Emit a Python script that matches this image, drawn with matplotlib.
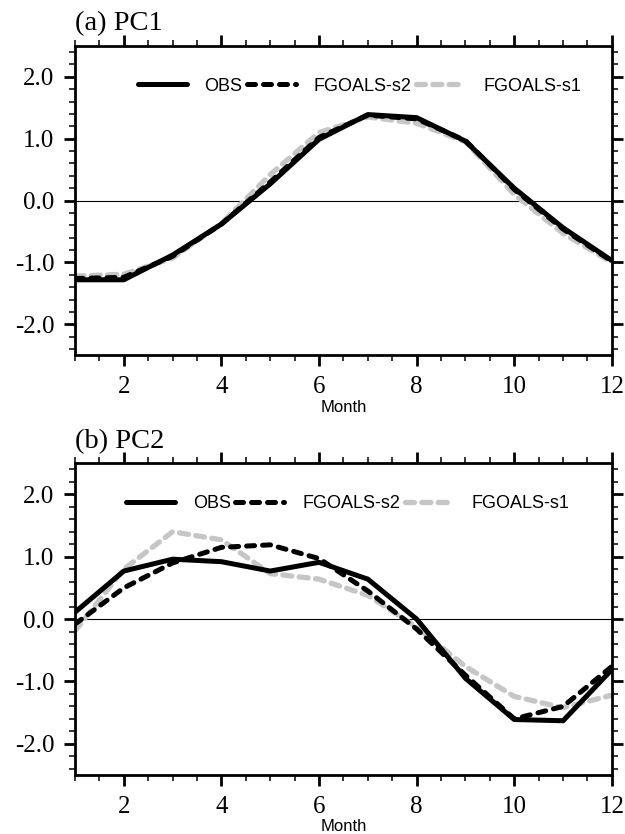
import numpy as np
import matplotlib
matplotlib.use("Agg")
import matplotlib.pyplot as plt
from matplotlib.ticker import MultipleLocator, FormatStrFormatter

months = np.arange(1, 13)

# PC1
pc1_obs = [-1.28, -1.28, -0.88, -0.38, 0.27, 0.99, 1.39, 1.34, 0.96, 0.20, -0.44, -0.97]
pc1_s2 = [-1.26, -1.24, -0.90, -0.38, 0.30, 1.02, 1.38, 1.32, 0.97, 0.18, -0.46, -0.98]
pc1_s1 = [-1.22, -1.19, -0.93, -0.37, 0.42, 1.10, 1.35, 1.25, 0.95, 0.10, -0.53, -1.00]

# PC2
pc2_obs = [0.11, 0.77, 0.96, 0.92, 0.77, 0.91, 0.64, 0.00, -0.95, -1.61, -1.63, -0.81]
pc2_s2 = [-0.08, 0.50, 0.90, 1.15, 1.19, 0.97, 0.45, -0.16, -0.90, -1.60, -1.40, -0.76]
pc2_s1 = [-0.19, 0.80, 1.40, 1.27, 0.73, 0.64, 0.38, -0.13, -0.76, -1.24, -1.42, -1.22]

titles = ["(a) PC1", "(b) PC2"]
labels = ["OBS", "FGOALS-s2", "FGOALS-s1"]
gray = "#c6c6c6"

fig = plt.figure(figsize=(6.25, 8.34), dpi=100)
ax1 = fig.add_axes([0.12, 0.574, 0.859, 0.371])
ax2 = fig.add_axes([0.12, 0.0707, 0.859, 0.374])

serif = "Liberation Serif"
sans = "Liberation Sans"
dash_black = (0, (1.6, 1.6))
dash_gray = (0, (1.7, 1.4))

for ax, title, obs, s2, s1, legx in [(ax1, titles[0], pc1_obs, pc1_s2, pc1_s1, 0.117),
                                       (ax2, titles[1], pc2_obs, pc2_s2, pc2_s1, 0.095)]:
    ax.axhline(0, color="black", lw=0.8, zorder=1)
    ax.plot(months, s1, color=gray, lw=3.8, ls=dash_gray, dash_capstyle="round",
            label=labels[2], zorder=2)
    ax.plot(months, s2, color="black", lw=3.6, ls=dash_black, dash_capstyle="round",
            label=labels[1], zorder=3)
    ax.plot(months, obs, color="black", lw=3.6, solid_capstyle="round",
            label=labels[0], zorder=4)
    ax.set_xlim(1, 12)
    ax.set_ylim(-2.5, 2.5)
    ax.xaxis.set_major_locator(MultipleLocator(2))
    ax.xaxis.set_minor_locator(MultipleLocator(0.5))
    ax.yaxis.set_major_locator(MultipleLocator(1.0))
    ax.yaxis.set_minor_locator(MultipleLocator(0.2))
    ax.yaxis.set_major_formatter(FormatStrFormatter("%.1f"))
    ax.tick_params(which="both", direction="out", top=True, right=True,
                   labeltop=False, labelright=False)
    ax.tick_params(which="major", length=8, width=2, pad=7)
    ax.tick_params(which="minor", length=4.3, width=1.1)
    for lab in ax.get_xticklabels() + ax.get_yticklabels():
        lab.set_fontfamily(serif)
        lab.set_fontsize(18)
    for sp in ax.spines.values():
        sp.set_linewidth(2)
    ax.set_xlabel("Month", fontfamily=sans, fontsize=12, labelpad=1)
    ax.set_title(title, loc="left", fontfamily=serif, fontsize=20.5, pad=11, x=0)
    h, l = ax.get_legend_handles_labels()
    order = [2, 1, 0]
    ax.legend([h[i] for i in order], [l[i] for i in order], ncol=3, frameon=False,
              loc="center left", bbox_to_anchor=(legx, 0.87),
              borderpad=0, borderaxespad=0,
              prop={"family": sans, "size": 13},
              handlelength=2.7, handletextpad=1.0, columnspacing=0.25)

fig.savefig("out.png", dpi=100)
